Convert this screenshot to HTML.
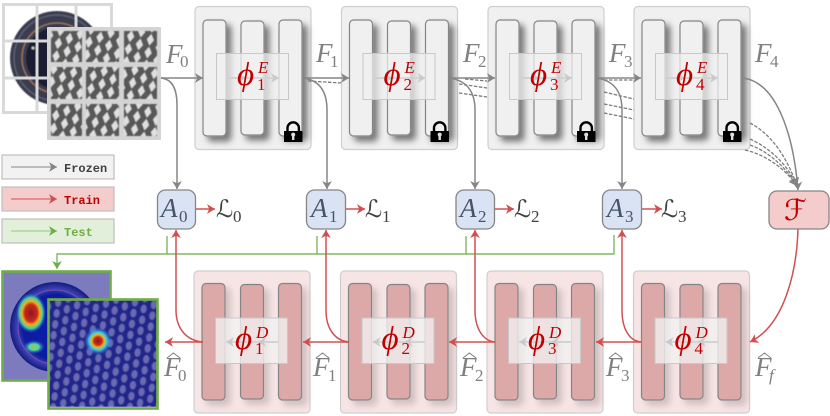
<!DOCTYPE html>
<html><head><meta charset="utf-8"><style>
html,body{margin:0;padding:0;background:#fff;width:830px;height:416px;overflow:hidden}
svg{display:block}
.F{font-family:"Liberation Serif",serif;font-style:italic;font-size:27px;fill:#808080}
.Fs{font-family:"Liberation Serif",serif;font-size:17px;fill:#808080}
.phi{font-family:"Liberation Serif",serif;font-style:italic;font-size:33px;fill:#c00000}
.sup{font-family:"Liberation Serif",serif;font-style:italic;font-size:17px;fill:#c00000}
.sub{font-family:"Liberation Serif",serif;font-size:17px;fill:#c00000}
.A{font-family:"Liberation Serif",serif;font-style:italic;font-size:27px;fill:#44546a}
.As{font-family:"Liberation Serif",serif;font-size:17px;fill:#44546a}
.L{font-family:"DejaVu Sans",sans-serif;font-size:24px;fill:#404040}
.Ls{font-family:"Liberation Serif",serif;font-size:17px;fill:#404040}
.m{font-family:"Liberation Mono",monospace;font-size:12px;font-weight:bold}
.g{fill:none;stroke:#858585;stroke-width:1.5}
.d{fill:none;stroke:#7c7c7c;stroke-width:1.3;stroke-dasharray:3.5 1.5}
.r{fill:none;stroke:#d05050;stroke-width:1.5}
.gr{fill:none;stroke:#80b860;stroke-width:1.4}
</style></head><body>
<svg width="830" height="416" viewBox="0 0 830 416" xmlns="http://www.w3.org/2000/svg">
<defs>
<marker id="ag" markerUnits="userSpaceOnUse" markerWidth="13" markerHeight="13" refX="10" refY="5.5" orient="auto"><path d="M2 .6L10 5.500L2 10.400L4.200 5.500Z" fill="#858585"/></marker>
<marker id="ar" markerUnits="userSpaceOnUse" markerWidth="13" markerHeight="13" refX="10" refY="5.5" orient="auto"><path d="M2 .6L10 5.500L2 10.400L4.200 5.500Z" fill="#d05050"/></marker>
<marker id="agr" markerUnits="userSpaceOnUse" markerWidth="13" markerHeight="13" refX="10" refY="5.5" orient="auto"><path d="M2 .6L10 5.500L2 10.400L4.200 5.500Z" fill="#70ad47"/></marker>
<marker id="al" markerUnits="userSpaceOnUse" markerWidth="13" markerHeight="13" refX="10" refY="5.5" orient="auto"><path d="M2 .6L10 5.500L2 10.400L4.200 5.500Z" fill="#cacaca"/></marker>
<filter id="s1" x="-50%" y="-20%" width="220%" height="140%"><feDropShadow dx="5" dy="5" stdDeviation="3.2" flood-color="#000" flood-opacity=".5"/></filter>
<filter id="s2" x="-50%" y="-20%" width="220%" height="140%"><feDropShadow dx="5" dy="5" stdDeviation="3.2" flood-color="#000" flood-opacity=".16"/></filter>
<filter id="soft"><feGaussianBlur stdDeviation=".4"/></filter>
<pattern id="hatch" width="20" height="13" patternUnits="userSpaceOnUse" patternTransform="rotate(10)">
<rect width="20" height="13" fill="#585858"/>
<g fill="#e0e0e0">
<path d="M5 .6L8.600 6.500L5 12.400L1.400 6.500Z"/>
<path d="M15 -5.900L18.600 0L15 5.900L11.400 0Z"/>
<path d="M15 7.100L18.600 13L15 18.900L11.400 13Z"/>
</g>
</pattern>
<pattern id="hm" width="19" height="11" patternUnits="userSpaceOnUse" patternTransform="rotate(8)">
<rect width="19" height="11" fill="#20278a"/>
<ellipse cx="4.750" cy="5.500" rx="3" ry="4.200" fill="#6a6ab2"/>
<ellipse cx="14.250" cy="0" rx="3" ry="4.200" fill="#6a6ab2"/>
<ellipse cx="14.250" cy="11" rx="3" ry="4.200" fill="#6a6ab2"/>
</pattern>
<radialGradient id="hot1"><stop offset="0" stop-color="#8c1a1a"/><stop offset=".42" stop-color="#c8281c"/><stop offset=".6" stop-color="#f0b020"/><stop offset=".78" stop-color="#40d0a0"/><stop offset="1" stop-color="#2050e0" stop-opacity="0"/></radialGradient>
<radialGradient id="hot3"><stop offset="0" stop-color="#8c1a1a"/><stop offset=".28" stop-color="#c8281c"/><stop offset=".45" stop-color="#f0b020"/><stop offset=".62" stop-color="#40d0e0"/><stop offset="1" stop-color="#3060e0" stop-opacity="0"/></radialGradient>
<radialGradient id="hot2"><stop offset="0" stop-color="#b0c040"/><stop offset=".45" stop-color="#50d8a0"/><stop offset="1" stop-color="#2050e0" stop-opacity="0"/></radialGradient>
<radialGradient id="disc"><stop offset="0" stop-color="#0a1cb0"/><stop offset=".72" stop-color="#0d1c9c"/><stop offset=".85" stop-color="#3a40b0"/><stop offset="1" stop-color="#151a80"/></radialGradient>
<g id="lock">
<path d="M287.500 131V128a5.700 5.700 0 0 1 11.400 0V131" fill="none" stroke="#000" stroke-width="2.400"/>
<rect x="284" y="131" width="18.500" height="11" fill="#000"/>
<circle cx="293.200" cy="134.600" r="2" fill="#ddd"/><rect x="292" y="135" width="2.400" height="5" fill="#ddd"/>
</g>
<g id="enc">
<rect x="195" y="6.500" width="116" height="143" rx="4" fill="#f0f0f0" stroke="#cfcfcf" stroke-width="1.200"/>
<g fill="#f0f0f0" stroke="#858585" stroke-width="1.200" filter="url(#s1)">
<rect x="203" y="20" width="23" height="116" rx="4"/>
<rect x="241" y="21" width="23" height="114" rx="4"/>
<rect x="279" y="20" width="23" height="116" rx="4"/>
</g>
<rect x="216.500" y="53.500" width="72" height="46" fill="#f0f0f0" fill-opacity=".72" stroke="#c8c8c8" stroke-width="1"/>
<path d="M227 78H279" fill="none" stroke="#cfcfcf" stroke-width="1.500" marker-end="url(#al)"/>
<path d="M227 78H246" fill="none" stroke="#cfcfcf" stroke-width="1.500" marker-end="url(#al)"/>
<use href="#lock"/>
</g>
<g id="dec">
<rect x="194" y="271" width="116" height="142" rx="4" fill="#f7e4e4" stroke="#cfcfcf" stroke-width="1.200"/>
<g fill="#dca8a8" stroke="#858585" stroke-width="1.200" filter="url(#s2)">
<rect x="202" y="283.500" width="23" height="116.500" rx="4"/>
<rect x="240.500" y="284.500" width="23" height="114.500" rx="4"/>
<rect x="278.500" y="283.500" width="23" height="116.500" rx="4"/>
</g>
<rect x="215.500" y="318" width="72" height="45.500" fill="#f3f3f3" fill-opacity=".76" stroke="#c8c8c8" stroke-width="1"/>
<path d="M278 342H226" fill="none" stroke="#cfcfcf" stroke-width="1.500" marker-end="url(#al)"/>
<path d="M278 342H258" fill="none" stroke="#cfcfcf" stroke-width="1.500" marker-end="url(#al)"/>
</g>
<clipPath id="c1"><rect x="3" y="272" width="107" height="108"/></clipPath>
<clipPath id="c2"><rect x="49" y="300" width="108" height="107"/></clipPath>
</defs>

<!-- input images -->
<rect x="3.500" y="4.500" width="108" height="108" fill="#fff"/>
<g filter="url(#soft)">
<circle cx="57" cy="58" r="47" fill="#3a3d50"/>
<circle cx="57" cy="58" r="35" fill="none" stroke="#a0765c" stroke-width="1.300"/>
<circle cx="57" cy="58" r="31" fill="#1c1e30"/>
<circle cx="57" cy="58" r="43" fill="none" stroke="#5e6174" stroke-width="1.400"/>
<circle cx="33" cy="48" r="1.500" fill="#ccb"/>
</g>
<g fill="none" stroke="#d9d9d9" stroke-width="3">
<rect x="3.500" y="4.500" width="108" height="108"/>
<path d="M37 4.500V112.500M76 4.500V112.500M3.500 41H111.500M3.500 78H111.500"/>
</g>
<rect x="47" y="27" width="114" height="113" fill="#d4d4d4" rx="1"/>
<g fill="url(#hatch)" filter="url(#soft)">
<rect x="51" y="31" width="31" height="31"/><rect x="86" y="31" width="33" height="31"/><rect x="124" y="31" width="33" height="31"/>
<rect x="51" y="67" width="31" height="32"/><rect x="86" y="67" width="33" height="32"/><rect x="124" y="67" width="33" height="32"/>
<rect x="51" y="104" width="31" height="32"/><rect x="86" y="104" width="33" height="32"/><rect x="124" y="104" width="33" height="32"/>
</g>

<!-- legend -->
<rect x="2" y="155" width="112" height="24" fill="#f2f2f2" stroke="#bfbfbf" stroke-width="1.200"/>
<rect x="2" y="187" width="112" height="24" fill="#f4cccc" stroke="#bfbfbf" stroke-width="1.200"/>
<rect x="2" y="219" width="112" height="24" fill="#e2efda" stroke="#bfbfbf" stroke-width="1.200"/>
<path d="M11 167H57" class="g" style="stroke-width:1.100" marker-end="url(#ag)"/>
<path d="M11 199H57" class="r" style="stroke-width:1.100" marker-end="url(#ar)"/>
<path d="M11 231H57" fill="none" stroke="#90c878" stroke-width="1.100" marker-end="url(#agr)"/>
<text x="64" y="172" class="m" fill="#404040">Frozen</text>
<text x="64" y="204" class="m" fill="#c00000">Train</text>
<text x="64" y="236" class="m" fill="#70ad47">Test</text>

<!-- blocks -->
<use href="#enc"/>
<use href="#enc" x="146.500"/>
<use href="#enc" x="293"/>
<use href="#enc" x="439"/>
<use href="#dec"/>
<use href="#dec" x="146.500"/>
<use href="#dec" x="293"/>
<use href="#dec" x="439.500"/>

<!-- dashed -->
<path class="d" d="M308 81L341 83"/>
<path class="d" d="M459 84L487 88M459 93L487 97M465 79L487 81"/>
<path class="d" d="M604 80L634 80M604 92L634 99M604 104L634 110M604 113L634 119"/>
<path class="d" d="M750 123C773 135 788 160 797 186" marker-end="url(#ag)"/>
<path class="d" d="M750 139C770 148 788 165 797 186" marker-end="url(#ag)"/>
<path class="d" d="M750 145C770 152 788 170 797 186" marker-end="url(#ag)"/>
<path class="d" d="M745 150C768 155 788 172 797 186" marker-end="url(#ag)"/>

<!-- gray arrows -->
<path class="g" d="M161 78H203" marker-end="url(#ag)"/>
<path class="g" d="M161 78C172 79 177 88 177 105V189" marker-end="url(#ag)"/>
<path class="g" d="M303 78H349" marker-end="url(#ag)"/>
<path class="g" d="M303 78C318 80 327 90 327 110V189" marker-end="url(#ag)"/>
<path class="g" d="M449 78H495" marker-end="url(#ag)"/>
<path class="g" d="M449 78C465 80 475 90 475 110V189" marker-end="url(#ag)"/>
<path class="g" d="M596 78H641" marker-end="url(#ag)"/>
<path class="g" d="M596 78C612 80 622 90 622 110V189" marker-end="url(#ag)"/>
<path class="g" d="M743 78C775 82 793 130 798 190" marker-end="url(#ag)"/>

<!-- green -->
<path class="gr" d="M614 235V254H57V269" marker-end="url(#agr)"/>
<path class="gr" d="M167 236V254M317 236V254M466 236V254"/>

<!-- red arrows -->
<path class="r" d="M798 228C797 270 785 325 750 342" marker-end="url(#ar)"/>
<path class="r" d="M641 342H596" marker-end="url(#ar)"/>
<path class="r" d="M495 342H449" marker-end="url(#ar)"/>
<path class="r" d="M349 342H303" marker-end="url(#ar)"/>
<path class="r" d="M203 342H165" marker-end="url(#ar)"/>
<path class="r" d="M641 342C630 341 622 330 622 310V230" marker-end="url(#ar)"/>
<path class="r" d="M495 342C484 341 475 330 475 310V230" marker-end="url(#ar)"/>
<path class="r" d="M349 342C336 341 326 330 326 310V230" marker-end="url(#ar)"/>
<path class="r" d="M203 342C188 341 176 330 176 310V230" marker-end="url(#ar)"/>
<path class="r" d="M195 209H215" marker-end="url(#ar)"/>
<path class="r" d="M346 209H365" marker-end="url(#ar)"/>
<path class="r" d="M494 209H514" marker-end="url(#ar)"/>
<path class="r" d="M642 209H662" marker-end="url(#ar)"/>

<!-- A nodes -->
<g fill="#dae3f3" stroke="#858585" stroke-width="1.300">
<rect x="157.500" y="190" width="38" height="39" rx="8"/>
<rect x="306.500" y="190" width="39" height="39" rx="8"/>
<rect x="456" y="190" width="38.500" height="39" rx="8"/>
<rect x="602.500" y="190" width="39" height="39" rx="8"/>
</g>
<rect x="769" y="191" width="60" height="38" rx="8" fill="#f4cccc" stroke="#858585" stroke-width="1.300"/>
<text x="161" y="217" class="A">A</text><text x="179" y="222" class="As">0</text>
<text x="311" y="217" class="A">A</text><text x="329" y="222" class="As">1</text>
<text x="460" y="217" class="A">A</text><text x="478" y="222" class="As">2</text>
<text x="607" y="217" class="A">A</text><text x="625" y="222" class="As">3</text>
<text x="784" y="220" font-family="DejaVu Sans,sans-serif" font-size="29" fill="#c00000">ℱ</text>

<text x="216" y="217" class="L">ℒ</text><text x="233" y="222" class="Ls">0</text>
<text x="365" y="217" class="L">ℒ</text><text x="382" y="222" class="Ls">1</text>
<text x="514" y="217" class="L">ℒ</text><text x="531" y="222" class="Ls">2</text>
<text x="661" y="217" class="L">ℒ</text><text x="678" y="222" class="Ls">3</text>

<!-- F labels -->
<text x="166" y="63" class="F">F</text><text x="180" y="67" class="Fs">0</text>
<text x="316" y="62" class="F">F</text><text x="330" y="67" class="Fs">1</text>
<text x="463" y="62" class="F">F</text><text x="478" y="67" class="Fs">2</text>
<text x="609" y="62" class="F">F</text><text x="624" y="67" class="Fs">3</text>
<text x="755" y="62" class="F">F</text><text x="770" y="67" class="Fs">4</text>

<text x="164" y="376" class="F">F</text><text x="178" y="381" class="Fs">0</text>
<text x="313" y="376" class="F">F</text><text x="328" y="381" class="Fs">1</text>
<text x="460" y="376" class="F">F</text><text x="475" y="381" class="Fs">2</text>
<text x="606" y="376" class="F">F</text><text x="621" y="381" class="Fs">3</text>
<text x="755" y="376" class="F">F</text><text x="769" y="381" class="Fs" font-style="italic">f</text>
<g fill="none" stroke="#808080" stroke-width="1">
<path d="M167 358L173.500 353L180 358M316 358L322.500 353L329 358M463 358L469.500 353L476 358M609 358L615.500 353L622 358M758 358L764.500 353L771 358"/>
</g>

<!-- phi labels -->
<text x="237" y="85" class="phi">ϕ</text><text x="258" y="73" class="sup">E</text><text x="257" y="90" class="sub">1</text>
<text x="383.500" y="85" class="phi">ϕ</text><text x="404.500" y="73" class="sup">E</text><text x="403.500" y="90" class="sub">2</text>
<text x="530" y="85" class="phi">ϕ</text><text x="551" y="73" class="sup">E</text><text x="550" y="90" class="sub">3</text>
<text x="676" y="85" class="phi">ϕ</text><text x="697" y="73" class="sup">E</text><text x="696" y="90" class="sub">4</text>
<text x="235" y="349" class="phi">ϕ</text><text x="256" y="338" class="sup">D</text><text x="255" y="354" class="sub">1</text>
<text x="381.500" y="349" class="phi">ϕ</text><text x="402.500" y="338" class="sup">D</text><text x="401.500" y="354" class="sub">2</text>
<text x="528" y="349" class="phi">ϕ</text><text x="549" y="338" class="sup">D</text><text x="548" y="354" class="sub">3</text>
<text x="674.500" y="349" class="phi">ϕ</text><text x="695.500" y="338" class="sup">D</text><text x="694.500" y="354" class="sub">4</text>

<!-- heatmaps -->
<g clip-path="url(#c1)">
<rect x="3" y="272" width="107" height="108" fill="#7b7bbd"/>
<circle cx="55" cy="327" r="45" fill="url(#disc)"/>
<circle cx="55" cy="327" r="37" fill="none" stroke="#7a50b0" stroke-width="1"/>
<ellipse cx="31" cy="313" rx="15" ry="20" fill="url(#hot1)"/>
<ellipse cx="34" cy="347" rx="11" ry="7" fill="url(#hot2)"/>
</g>
<rect x="2.500" y="271.500" width="108" height="109" fill="none" stroke="#70ad47" stroke-width="2.600"/>
<g clip-path="url(#c2)">
<rect x="49" y="300" width="108" height="107" fill="url(#hm)" filter="url(#soft)"/>
<circle cx="98" cy="341" r="14" fill="url(#hot3)"/>
</g>
<rect x="48.500" y="299.500" width="109" height="109" fill="none" stroke="#70ad47" stroke-width="2.600"/>
</svg>
</body></html>
